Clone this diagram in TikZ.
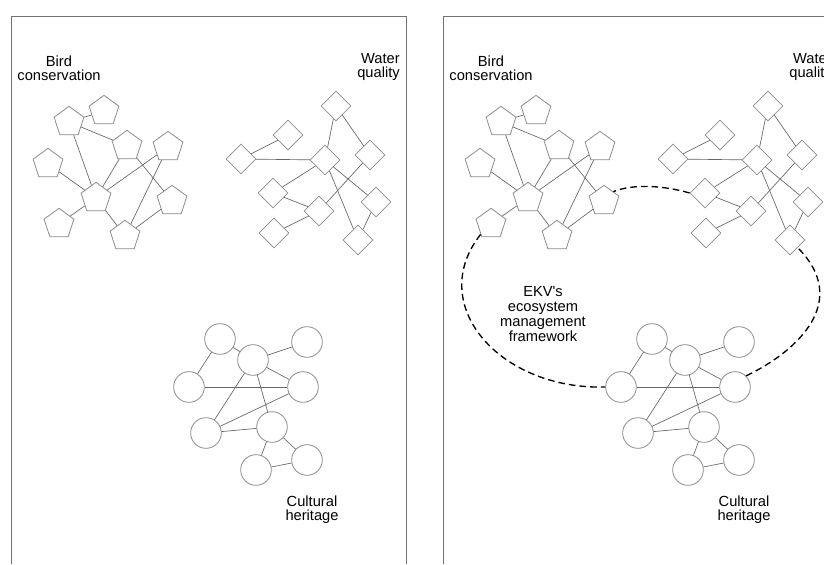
\documentclass[tikz,border=0pt]{standalone}
\usepackage{fontspec}
\setmainfont{Liberation Sans}
\usetikzlibrary{shapes.geometric}

\tikzset{
	bird/.style={draw=black!45, fill=white, line width=0.6pt, regular polygon, regular polygon sides=5, minimum size=23.5pt, inner sep=0pt},
	water/.style={draw=black!45, fill=white, line width=0.6pt, diamond, minimum size=22.5pt, inner sep=0pt},
	heritage/.style={draw=black!45, fill=white, line width=0.6pt, circle, minimum size=23pt, inner sep=0pt},
	link/.style={draw=black!60, line width=0.5pt},
	frame/.style={draw=black!55, line width=0.7pt},
	lbl/.style={align=center, inner sep=0pt, font=\fontsize{11}{10.5}\selectfont},
	ring/.style={draw, dash pattern=on 5pt off 3pt, line width=1pt}
}

\newcommand\clusters{
	\draw[frame] (11,564) -- (11,16) -- (406,16) -- (406,564);
	\node[lbl] (birdtxt) at (59,68) {Bird\\conservation};
	\node[lbl, anchor=east, align=right] (watertxt) at (400,67) {Water\\quality};
	\node[lbl] (heritagetxt) at (312,510) {Cultural\\heritage};

	\node[bird] (b1) at (69,122) {};
	\node[bird] (b2) at (104,111) {};
	\node[bird] (b3) at (127,146) {};
	\node[bird] (b4) at (168,147) {};
	\node[bird] (b5) at (48,164) {};
	\node[bird] (b6) at (96,198) {};
	\node[bird] (b7) at (172,201) {};
	\node[bird] (b8) at (59,224) {};
	\node[bird] (b9) at (125,236) {};
	\draw[link] (b1) -- (b2);
	\draw[link] (b1) -- (b3);
	\draw[link] (b1) -- (b6);
	\draw[link] (b5) -- (b6);
	\draw[link] (b3) -- (b6);
	\draw[link] (b6) -- (b4);
	\draw[link] (b3) -- (b7);
	\draw[link] (b4) -- (b9);
	\draw[link] (b6) -- (b9);
	\draw[link] (b7) -- (b9);
	\draw[link] (b6) -- (b8);

	\node[water] (w1) at (336,106) {};
	\node[water] (w2) at (288,135) {};
	\node[water] (w3) at (241,159) {};
	\node[water] (w4) at (325,160) {};
	\node[water] (w5) at (370,155) {};
	\node[water] (w6) at (273,193) {};
	\node[water] (w7) at (376,202) {};
	\node[water] (w8) at (319,211) {};
	\node[water] (w9) at (274,233) {};
	\node[water] (w10) at (358,240) {};
	\draw[link] (w3) -- (w2);
	\draw[link] (w3) -- (w4);
	\draw[link] (w4) -- (w1);
	\draw[link] (w1) -- (w5);
	\draw[link] (w4) -- (w6);
	\draw[link] (w6) -- (w8);
	\draw[link] (w8) -- (w9);
	\draw[link] (w8) -- (w5);
	\draw[link] (w4) -- (w7);
	\draw[link] (w4) -- (w10);
	\draw[link] (w7) -- (w10);

	\node[heritage] (h1) at (220,339) {};
	\node[heritage] (h2) at (253,360) {};
	\node[heritage] (h3) at (307,342) {};
	\node[heritage] (h4) at (189,387) {};
	\node[heritage] (h5) at (303,387) {};
	\node[heritage] (h6) at (206,433) {};
	\node[heritage] (h7) at (272,427) {};
	\node[heritage] (h8) at (307,460) {};
	\node[heritage] (h9) at (256,470) {};
	\draw[link] (h1) -- (h4);
	\draw[link] (h1) -- (h2);
	\draw[link] (h2) -- (h3);
	\draw[link] (h2) -- (h5);
	\draw[link] (h4) -- (h5);
	\draw[link] (h2) -- (h6);
	\draw[link] (h2) -- (h7);
	\draw[link] (h5) -- (h6);
	\draw[link] (h6) -- (h7);
	\draw[link] (h7) -- (h8);
	\draw[link] (h7) -- (h9);
	\draw[link] (h9) -- (h8);
}

\begin{document}
\begin{tikzpicture}[x=0.75pt, y=-0.75pt]
	\useasboundingbox (0,0) rectangle (824,564);
	\clip (0,0) rectangle (824,564);

	\begin{scope}[name prefix=l]
		\clusters
	\end{scope}

	\begin{scope}[shift={(432,0)}, name prefix=r]
		\clusters
		\node[lbl, font=\fontsize{11}{11.3}\selectfont] (ekvtxt) at (111,314) {EKV\textquotesingle s\\ecosystem\\management\\framework};
		\draw[ring] (b8.south west) .. controls (-7,305) and (68,390) .. (h4.west);
		\draw[ring] (h5.north east) .. controls (368,350) and (418,300) .. (w10.south east);
		\draw[ring] (w6.west) .. controls (230,185) and (200,184) .. (b7.north east);
	\end{scope}
\end{tikzpicture}
\end{document}
